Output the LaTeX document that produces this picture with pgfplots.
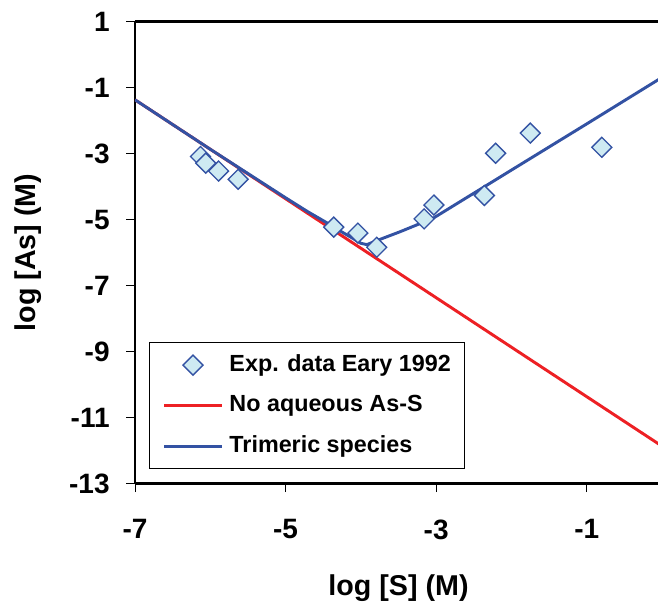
\documentclass[border=0pt]{standalone}
\usepackage{fontspec}
\setmainfont{Liberation Sans}
\usepackage{pgfplots}
\pgfplotsset{compat=1.18}
\definecolor{redline}{RGB}{237,32,36}
\definecolor{blueline}{RGB}{51,82,163}
\definecolor{markfill}{RGB}{206,234,242}
\pgfplotsset{marklegend/.style={legend image code/.code={%
    \draw[mark repeat=2,mark phase=2,##1] plot coordinates {(0pt,0pt) (21.75pt,0pt) (43.5pt,0pt)};}}}

\begin{document}
\begin{tikzpicture}
\begin{axis}[
    at={(0,0)}, anchor=south west,
    scale only axis, width=395.3pt, height=346.4pt,
    xmin=-7, xmax=0, ymin=-13, ymax=1,
    axis x line=box, axis y line=left,
    axis line style={line width=2pt,-},
    xtick={-7,-5,-3,-1}, xticklabels={-7,-5,-3,-1},
    ytick={-13,-11,-9,-7,-5,-3,-1,1},
    yticklabels={-13,-11,-9,-7,-5,-3,-1,1},
    xtick pos=bottom, ytick pos=left,
    xtick align=outside, ytick align=outside, major tick length=6.5pt,
    tick style={black, line width=0.6pt},
    tick label style={font=\fontsize{21}{22}\selectfont\bfseries},
    xticklabel shift=17pt, yticklabel shift=9pt,
    xlabel={log [S] (M)}, ylabel={log [As] (M)},
    every axis x label/.style={at={(axis description cs:0.5,-0.226)}, anchor=center,
        font=\fontsize{21.5}{23}\selectfont\bfseries},
    every axis y label/.style={at={(axis description cs:-0.203,0.5)}, anchor=center, rotate=90,
        font=\fontsize{21.5}{23}\selectfont\bfseries},
    legend image code/.code={\draw[#1] (0pt,0pt) -- (43.5pt,0pt);},
    legend cell align=left,
    legend style={at={(axis description cs:0.0262,0.0314)}, anchor=south west,
        draw=black, line width=0.6pt, inner xsep=10pt, inner ysep=8.75pt,
        row sep=14.4pt, column sep=4.5pt,
        font=\fontsize{17.5}{19}\selectfont\bfseries,
        nodes={inner sep=0pt, text height=12.5pt, text depth=3.5pt, anchor=west}},
]
% legend entry for the data markers (markers drawn last, on top)
\addlegendimage{only marks, mark=square*, mark size=5.3pt,
    mark options={rotate=45, fill=markfill, draw=blueline, line width=1pt},
    marklegend}
\addlegendentry{Exp. data Eary 1992}

\addplot[redline, line width=2.2pt] coordinates {(-7,-1.37) (0,-11.87)};
\addlegendentry{No aqueous As-S}

\addplot[blueline, line width=2.2pt] coordinates {
    (-7,-1.37) (-6,-2.87) (-5,-4.34) (-4.7,-4.77) (-4.45,-5.10)
    (-4.25,-5.38) (-4.1,-5.58) (-4.0,-5.72) (-3.92,-5.76) (-3.79,-5.64)
    (-3.48,-5.37) (-3.04,-4.96) (-2,-3.50) (-1,-2.10) (0,-0.69)
};
\addlegendentry{Trimeric species}

\addplot[only marks, forget plot, mark=square*, mark size=5.3pt,
    mark options={rotate=45, fill=markfill, draw=blueline, line width=1pt}]
    coordinates {
    (-6.13,-3.09) (-6.06,-3.29) (-5.89,-3.53) (-5.63,-3.78)
    (-4.36,-5.23) (-4.04,-5.41) (-3.79,-5.84)
    (-3.16,-4.98) (-3.03,-4.56) (-2.36,-4.27) (-2.21,-2.99)
    (-1.75,-2.38) (-0.80,-2.81)
};
\end{axis}
\pgfresetboundingbox
\path[use as bounding box] (-101.25pt,-92.6pt) rectangle (392.25pt,362.6pt);
\end{tikzpicture}
\end{document}
